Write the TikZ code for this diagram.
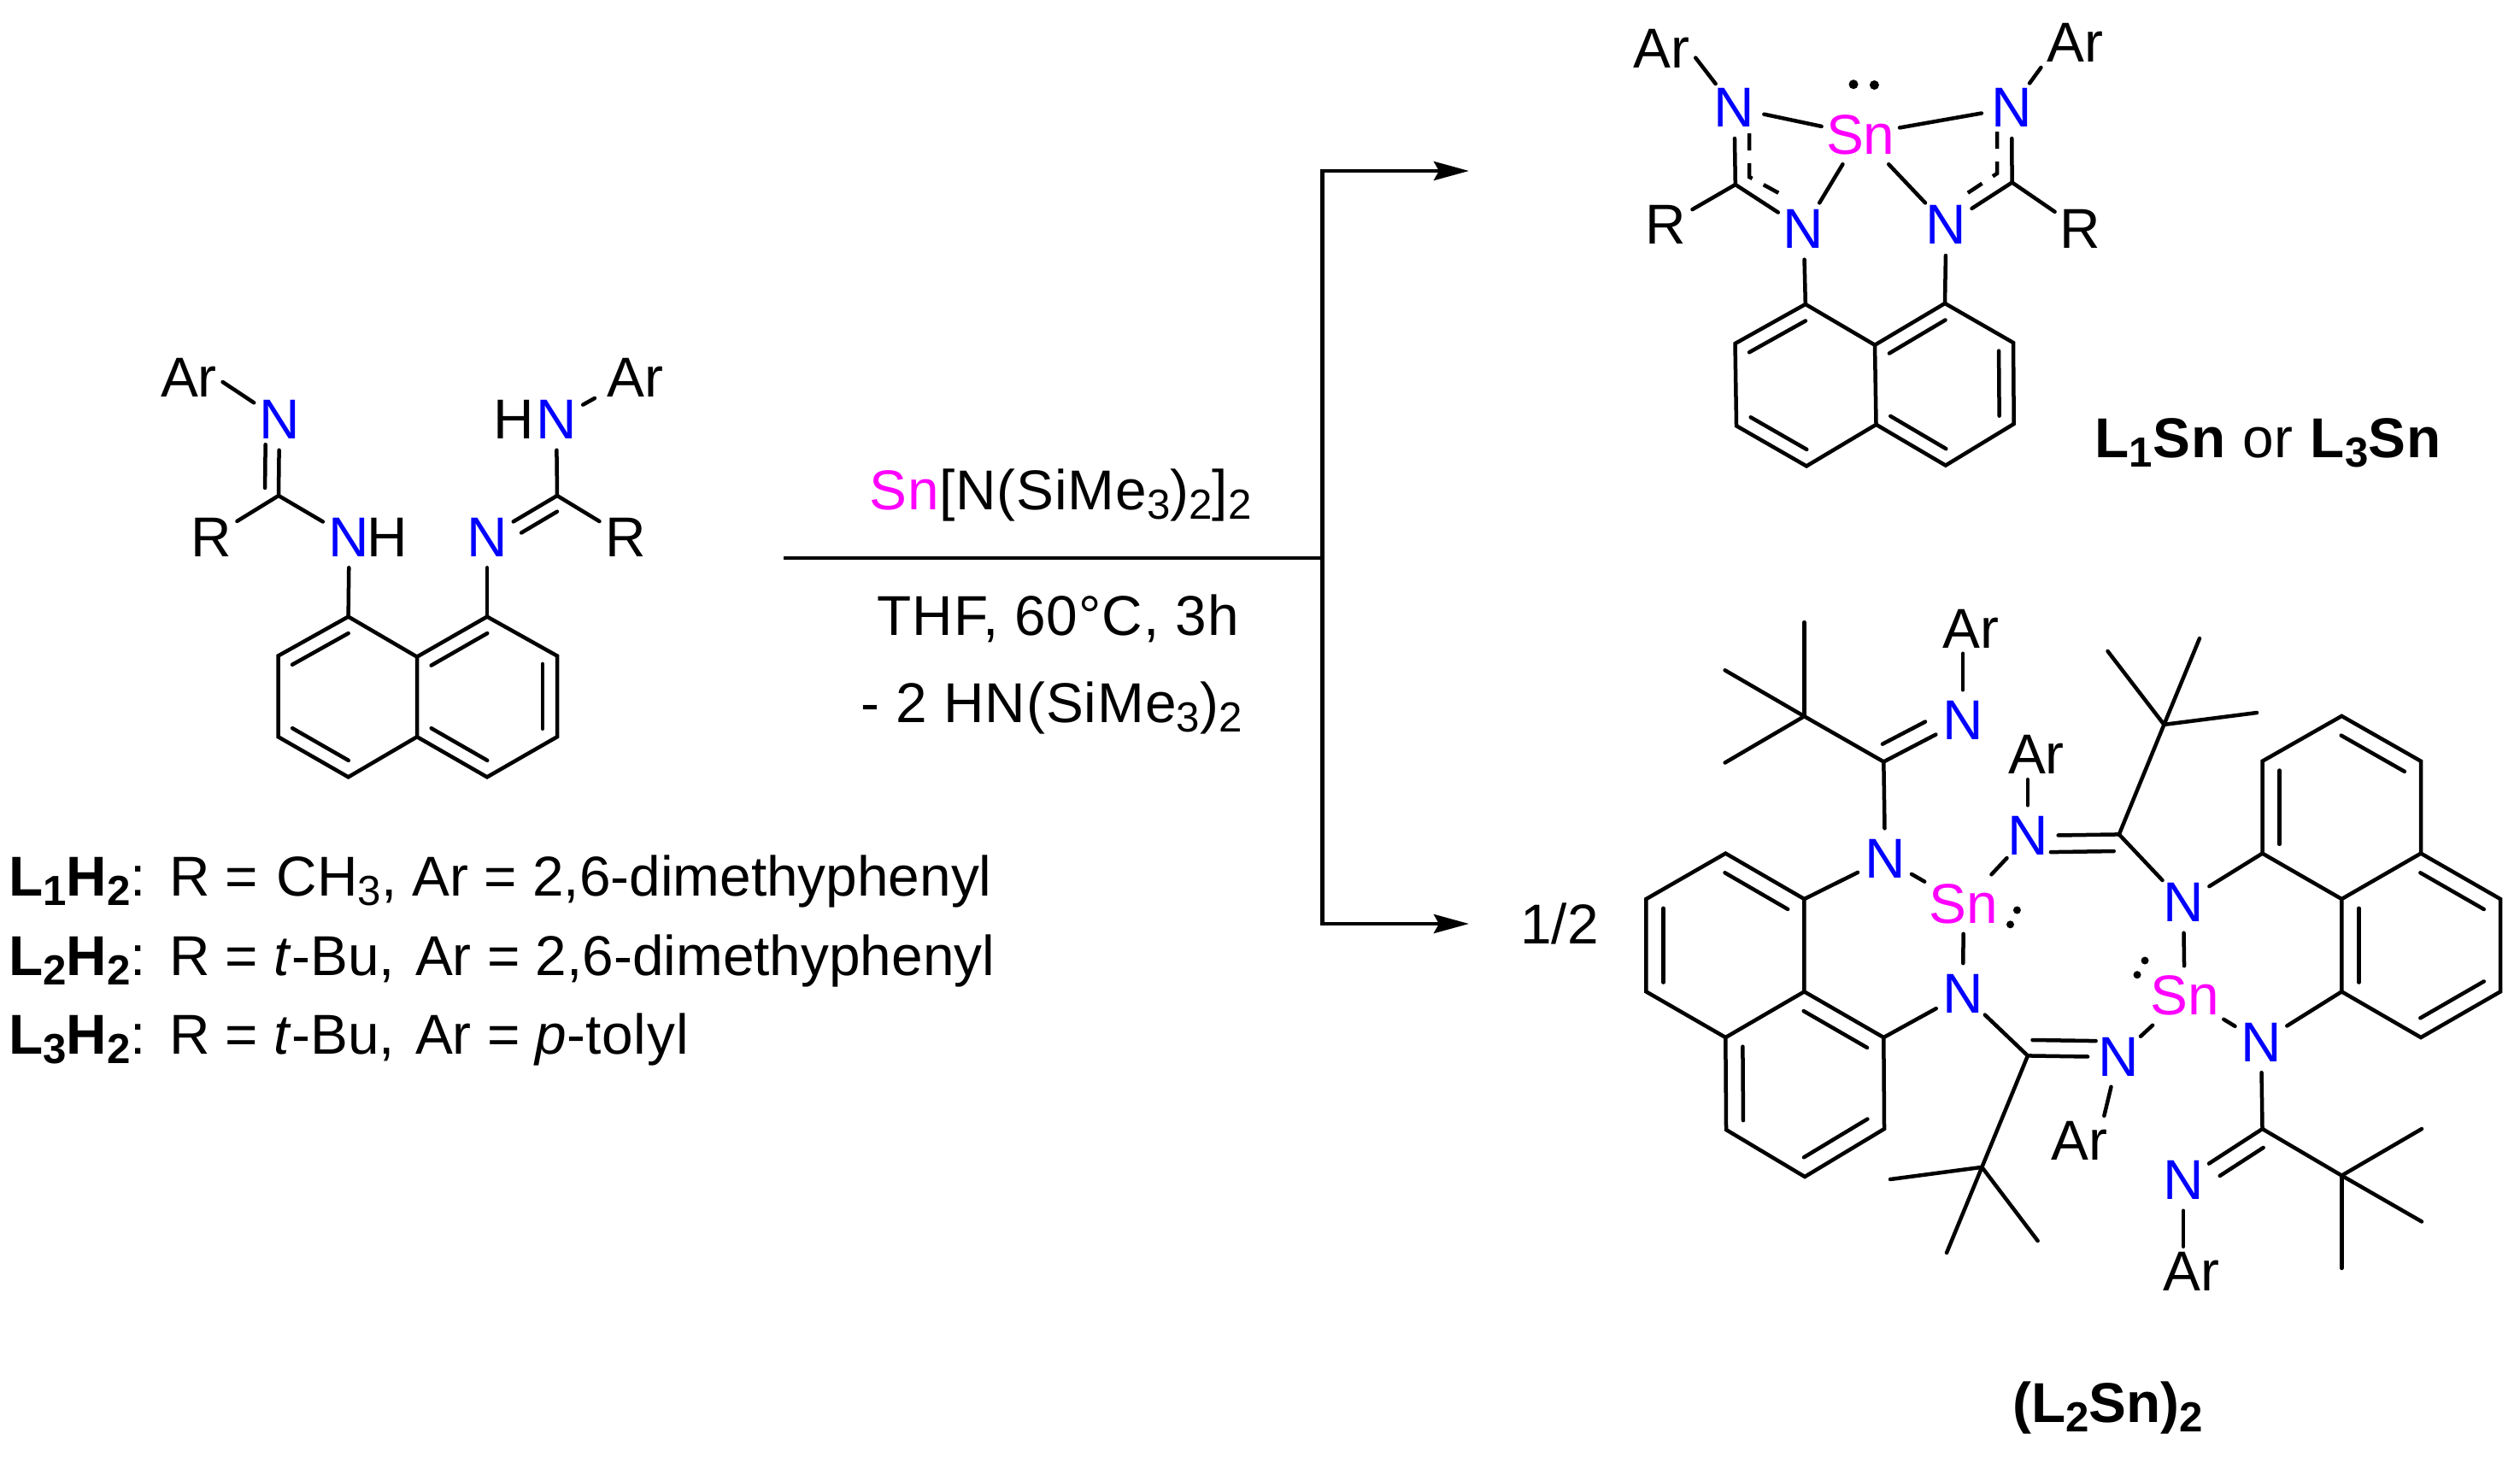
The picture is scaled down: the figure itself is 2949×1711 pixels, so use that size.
\documentclass[tikz,border=0pt]{standalone}
\usepackage{fontspec}
\setmainfont{Liberation Sans}
\newfontfamily\widefont[LetterSpace=1.4]{Liberation Sans}
\usetikzlibrary{arrows.meta,calc}

\definecolor{nitblue}{RGB}{0,0,255}
\definecolor{tinpink}{RGB}{255,0,255}

\newcommand{\lsub}[1]{\raisebox{-.11cm}{\fontsize{14pt}{14pt}\selectfont #1}}
\newcommand{\inbondx}[5]{\draw[bond] ($(#1)!#4!(#2)!#3!90:(#2)$) -- ($(#2)!#5!(#1)!#3!-90:(#1)$);}
\newcommand{\inbond}[3]{\inbondx{#1}{#2}{#3}{.1}{.1}}

\tikzset{
  bond/.style={line width=.045cm, line cap=round},
  deloc/.style={line width=.045cm, dash pattern=on .2cm off .15cm},
  rxn/.style={line width=.045cm},
  atom/.style={circle, inner sep=0pt, minimum size=.7cm, font=\fontsize{18.7pt}{22pt}\selectfont},
  nit/.style={atom, text=nitblue},
  tin/.style={rectangle, inner sep=0pt, minimum width=.9cm, minimum height=.68cm, text=tinpink,
    font=\fontsize{18.7pt}{22pt}\selectfont},
  aryl/.style={rectangle, inner sep=.06cm, font=\fontsize{18.7pt}{22pt}\selectfont},
  txt/.style={anchor=base west, inner sep=0pt, font=\fontsize{18.7pt}{22pt}\selectfont},
  widetxt/.style={txt, font=\widefont\fontsize{18.7pt}{22pt}\selectfont}
}

\begin{document}
\begin{tikzpicture}[x=.01cm, y=-.01cm, >={Stealth[length=.41cm,width=.22cm,inset=.06cm]}]
\useasboundingbox (0,0) rectangle (2949,1711);

%------------------ LIGAND ------------------%
\path (407.6,721.6) coordinate (a1) (325.5,767.5) coordinate (a2) (325.5,862.2) coordinate (a3)
  (407.6,909.3) coordinate (a4) (488,862.2) coordinate (a5) (488,768.6) coordinate (a6)
  (570,721.6) coordinate (a7) (652,767.5) coordinate (a8) (652,862.2) coordinate (a9)
  (570,909.3) coordinate (a10);
\draw[bond] (a6) -- (a1) -- (a2) -- (a3) -- (a4) -- (a5) -- (a10) -- (a9) -- (a8) -- (a7) -- (a6) -- (a5);
\inbond{a1}{a2}{.17cm}
\inbond{a3}{a4}{.17cm}
\inbond{a7}{a6}{.17cm}
\inbond{a5}{a10}{.17cm}
\inbond{a9}{a8}{.17cm}

\coordinate (aCL) at (326,580);
\coordinate (aCR) at (652,580);
\node[nit] (aN1) at (408.7,628.6) {N};
\node[atom] (aH1) at (453.5,628.6) {H};
\node[nit] (aN2) at (570,628.6) {N};
\node[nit] (aN3) at (327,491) {N};
\node[nit] (aN4) at (651,491) {N};
\node[atom] (aH4) at (601.6,491) {H};
\node[atom] (aRL) at (247,628.6) {R};
\node[atom] (aRR) at (732,628.6) {R};
\node[aryl] (aArL) at (221,441.4) {Ar};
\node[aryl] (aArR) at (743.4,441.4) {Ar};

\draw[bond] (a1) -- (aN1);
\draw[bond] (a7) -- (aN2);
\draw[bond] (aCL) -- (aN1);
\draw[bond] (aCL) -- (aRL);
\draw[bond] (aCL) -- (aN3);
\inbondx{aCL}{aN3}{.16cm}{.1}{.33}
\draw[bond] (aCR) -- (aRR);
\draw[bond] (aCR) -- (aN4);
\draw[bond] (aCR) -- (aN2);
\inbondx{aCR}{aN2}{.16cm}{.1}{.39}
\draw[bond] (aN3) -- (aArL.-8);
\draw[bond, shorten >=.09cm] (aN4) -- (aArR.-153);

\node[txt] (capA) at (9.5,1048.8) {\textbf{L\lsub{1}H\lsub{2}}:\kern.03cm{} R = \kern.03cm{}CH\lsub{3}, Ar = 2,6-dimethyphenyl};
\node[txt] (capB) at (9.5,1141.8) {\textbf{L\lsub{2}H\lsub{2}}:\kern.03cm{} R = \textit{t}-Bu,\kern.06cm{} Ar = 2,6-dimethyphenyl};
\node[txt] (capC) at (9.5,1233.6) {\textbf{L\lsub{3}H\lsub{2}}:\kern.03cm{} R = \textit{t}-Bu,\kern.06cm{} Ar = \textit{p}-{\widefont tolyl}};

%------------------ REACTION ARROWS ------------------%
\coordinate (rxnL) at (917.3,653);
\coordinate (fork) at (1547.6,653);
\coordinate (upT) at (1719,200);
\coordinate (dnT) at (1719,1081);
\draw[rxn] (rxnL) -- (fork);
\draw[rxn, ->] (fork) |- (upT);
\draw[rxn, ->] (fork) |- (dnT);

\node[widetxt] (reag) at (1017,596.4) {\textcolor{tinpink}{Sn}[N(SiMe\lsub{3})\lsub{2}]\lsub{2}};
\node[widetxt] (condA) at (1026,743) {THF, 60°C, 3h};
\node[widetxt] (condB) at (1007,845) {- 2 HN(SiMe\lsub{3})\lsub{2}};
\node[atom] (half) at (1825,1081) {1/2};

%------------------ MONOMER ------------------%
\path (2112.8,356) coordinate (b1) (2030.5,402) coordinate (b2) (2032,498.3) coordinate (b3)
  (2114,545.4) coordinate (b4) (2195.5,496.8) coordinate (b5) (2194,403.7) coordinate (b6)
  (2276,355) coordinate (b7) (2356,401) coordinate (b8) (2356.7,496) coordinate (b9)
  (2276.8,544.6) coordinate (b10);
\draw[bond] (b6) -- (b1) -- (b2) -- (b3) -- (b4) -- (b5) -- (b10) -- (b9) -- (b8) -- (b7) -- (b6) -- (b5);
\inbond{b1}{b2}{.17cm}
\inbond{b3}{b4}{.17cm}
\inbond{b7}{b6}{.17cm}
\inbond{b5}{b10}{.17cm}
\inbond{b9}{b8}{.17cm}

\coordinate (bCL) at (2030.8,216);
\coordinate (bCR) at (2354.6,213.5);
\node[tin] (bSn) at (2177.3,157.5) {Sn};
\node[nit] (bN1) at (2110.7,268) {N};
\node[nit] (bN2) at (2277.5,263.3) {N};
\node[nit] (bN3) at (2029.4,126.3) {N};
\node[nit] (bN4) at (2354,126.3) {N};
\node[atom] (bRL) at (1949.5,263) {R};
\node[atom] (bRR) at (2434,268) {R};
\node[aryl] (bArL) at (1944.6,57) {Ar};
\node[aryl] (bArR) at (2428,49.7) {Ar};

\draw[bond] (b1) -- (bN1);
\draw[bond] (b7) -- (bN2);
\draw[bond] (bCL) -- (bN1);
\draw[bond] (bCL) -- (bN3);
\draw[bond] (bCL) -- (bRL);
\draw[bond] (bCR) -- (bN2);
\draw[bond] (bCR) -- (bN4);
\draw[bond] (bCR) -- (bRR);
\draw[bond] (bN3) -- (bSn);
\draw[bond] (bN4) -- (bSn);
\draw[bond] (bN1) -- (bSn);
\draw[bond] (bN2) -- (bSn);
\draw[bond] (bN3) -- (bArL.-15);
\draw[bond] (bN4) -- (bArR.south west);

\coordinate (dL1) at (2047,156);
\coordinate (dL2) at (2047,207);
\coordinate (dL3) at (2088.3,229.6);
\coordinate (dR1) at (2337,154);
\coordinate (dR2) at (2337,203);
\coordinate (dR3) at (2298.6,228.5);
\draw[deloc] (dL1) -- (dL2) -- (dL3);
\draw[deloc] (dR1) -- (dR2) -- (dR3);

\fill (2169,98.7) circle (.055cm);
\fill (2193.4,99.5) circle (.055cm);

\node[widetxt] (capM) at (2451,535.8) {\textbf{L\lsub{1}Sn} or \textbf{L\lsub{3}Sn}};

%------------------ DIMER ------------------%
\path (2019.3,998.6) coordinate (c1) (1926.4,1052) coordinate (c2) (1926.4,1160.4) coordinate (c3)
  (2019.3,1214) coordinate (c4) (2111.4,1160.4) coordinate (c5) (2111.4,1052) coordinate (c6)
  (2020,1322) coordinate (c7) (2112,1377) coordinate (c8) (2205,1321) coordinate (c9)
  (2204.3,1214) coordinate (c10);
\draw[bond] (c5) -- (c6) -- (c1) -- (c2) -- (c3) -- (c4) -- (c5) -- (c10) -- (c9) -- (c8) -- (c7) -- (c4);
\inbond{c6}{c1}{.2cm}
\inbond{c2}{c3}{.2cm}
\inbond{c10}{c5}{.2cm}
\inbond{c4}{c7}{.2cm}
\inbond{c8}{c9}{.2cm}

\path (2647.5,890.7) coordinate (d1) (2740.3,837.9) coordinate (d2) (2833,890.7) coordinate (d3)
  (2833,998.6) coordinate (d4) (2740.3,1052) coordinate (d5) (2647.5,998.6) coordinate (d6)
  (2740.3,1160.4) coordinate (d7) (2833,1214) coordinate (d8) (2926,1160.4) coordinate (d9)
  (2926,1052) coordinate (d10);
\draw[bond] (d5) -- (d6) -- (d1) -- (d2) -- (d3) -- (d4) -- (d5) -- (d7) -- (d8) -- (d9) -- (d10) -- (d4);
\inbond{d3}{d2}{.2cm}
\inbond{d1}{d6}{.2cm}
\inbond{d5}{d7}{.2cm}
\inbond{d8}{d9}{.2cm}
\inbond{d10}{d4}{.2cm}

\coordinate (eC1) at (2204.3,891.4);
\coordinate (eC2) at (2479.8,976.4);
\coordinate (eC3) at (2647.5,1321);
\coordinate (eC4) at (2372.9,1235.4);
\coordinate (eT1) at (2111.4,838.2);
\coordinate (eT2) at (2532.4,847.9);
\coordinate (eT3) at (2740.3,1375.6);
\coordinate (eT4) at (2319.3,1365.8);

\coordinate (eM1a) at (2111.4,728.2);
\coordinate (eM1b) at (2018.6,784.3);
\coordinate (eM1c) at (2018.6,892.5);
\coordinate (eM2a) at (2466.5,762);
\coordinate (eM2b) at (2574,747);
\coordinate (eM2c) at (2641,834);
\coordinate (eM3a) at (2834,1321);
\coordinate (eM3b) at (2834,1429.5);
\coordinate (eM3c) at (2740.3,1484);
\coordinate (eM4a) at (2212,1380);
\coordinate (eM4b) at (2278,1466);
\coordinate (eM4c) at (2384.6,1452);

\node[tin] (eSn1) at (2297.9,1058) {Sn};
\node[tin] (eSn2) at (2556.5,1165) {Sn};
\node[nit] (eN1) at (2206,1005) {N};
\node[nit] (eN2) at (2297,1162.9) {N};
\node[nit] (eN3) at (2555,1056) {N};
\node[nit] (eN4) at (2646,1219.4) {N};
\node[nit] (eN5) at (2297,843) {N};
\node[nit] (eN6) at (2372.9,978) {N};
\node[nit] (eN7) at (2478.8,1237) {N};
\node[nit] (eN8) at (2555,1381) {N};
\node[aryl] (eAr5) at (2306.8,735.4) {Ar};
\node[aryl] (eAr6) at (2382.9,882.9) {Ar};
\node[aryl] (eAr7) at (2433,1335) {Ar};
\node[aryl] (eAr8) at (2564.6,1488) {Ar};

\draw[bond] (c6) -- (eN1);
\draw[bond] (c10) -- (eN2);
\draw[bond] (d6) -- (eN3);
\draw[bond] (d7) -- (eN4);
\draw[bond] (eC1) -- (eN1);
\draw[bond] (eC2) -- (eN3);
\draw[bond] (eC3) -- (eN4);
\draw[bond] (eC4) -- (eN2);
\draw[bond] (eN1) -- (eSn1);
\draw[bond] (eN2) -- (eSn1);
\draw[bond] (eN6) -- (eSn1);
\draw[bond] (eN3) -- (eSn2);
\draw[bond] (eN4) -- (eSn2);
\draw[bond] (eN7) -- (eSn2);

\draw[bond] (eC1) -- (eN5);
\inbondx{eC1}{eN5}{.19cm}{.08}{.38}
\draw[bond] (eC2) -- (eN6);
\inbondx{eC2}{eN6}{.195cm}{.06}{.25}
\draw[bond] (eC3) -- (eN8);
\inbondx{eC3}{eN8}{.19cm}{.1}{.35}
\draw[bond] (eC4) -- (eN7);
\inbondx{eC4}{eN7}{.185cm}{.05}{.25}

\draw[bond] (eN5) -- (eN5 |- eAr5.south);
\draw[bond] (eN6) -- (eN6 |- eAr6.south);
\draw[bond] (eN7) -- (eAr7.45);
\draw[bond] (eN8) -- (eN8 |- eAr8.north);

\draw[bond] (eC1) -- (eT1);
\draw[bond] (eC2) -- (eT2);
\draw[bond] (eC3) -- (eT3);
\draw[bond] (eC4) -- (eT4);
\draw[bond] (eT1) -- (eM1a);
\draw[bond] (eT1) -- (eM1b);
\draw[bond] (eT1) -- (eM1c);
\draw[bond] (eT2) -- (eM2a);
\draw[bond] (eT2) -- (eM2b);
\draw[bond] (eT2) -- (eM2c);
\draw[bond] (eT3) -- (eM3a);
\draw[bond] (eT3) -- (eM3b);
\draw[bond] (eT3) -- (eM3c);
\draw[bond] (eT4) -- (eM4a);
\draw[bond] (eT4) -- (eM4b);
\draw[bond] (eT4) -- (eM4c);

\fill (2360.4,1065) circle (.045cm);
\fill (2352.5,1081.8) circle (.045cm);
\fill (2510,1124) circle (.045cm);
\fill (2501,1140.7) circle (.045cm);

\node[txt] (capD) at (2354.5,1664) {\textbf{(L\lsub{2}Sn)\lsub{2}}};

\end{tikzpicture}
\end{document}
